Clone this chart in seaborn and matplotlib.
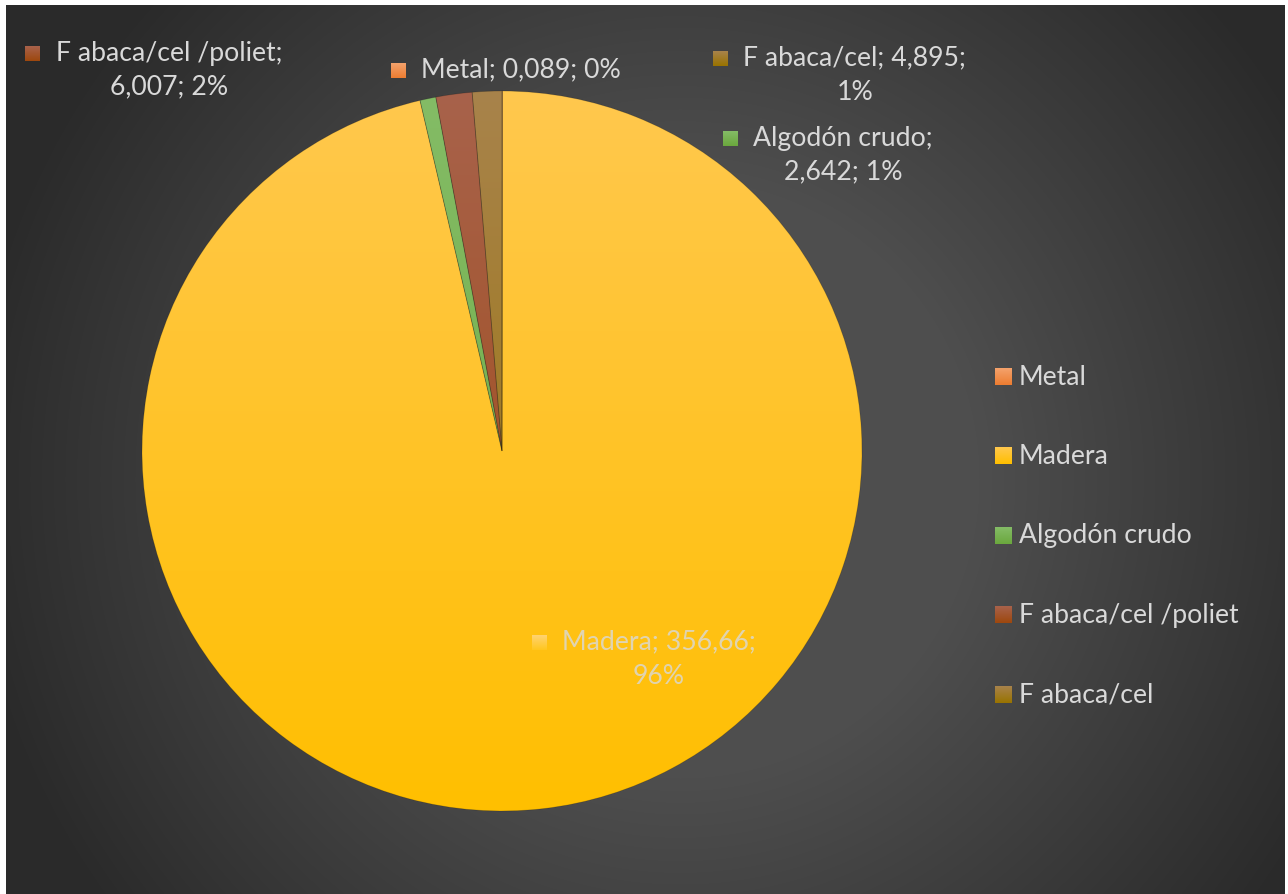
import numpy as np
import matplotlib
matplotlib.use("Agg")
import matplotlib.pyplot as plt
import seaborn as sns
from matplotlib.colors import to_rgb

# ---- data -------------------------------------------------------------
categories = ["Metal", "Madera", "Algodón crudo", "F abaca/cel /poliet", "F abaca/cel"]
values = [0.089, 356.66, 2.642, 6.007, 4.895]
value_labels = ["0,089", "356,66", "2,642", "6,007", "4,895"]

# ---- style ------------------------------------------------------------
top_colors = ["#F4A26C", "#FFC84E", "#84BC66", "#A8624B", "#A8834B"]
base_colors = ["#ED7D31", "#FFBF00", "#6BA83E", "#9E480E", "#997300"]
TEXT = "#D9D9D9"

W, H = 1288, 895
sns.set_theme(style="white")
plt.rcParams["font.family"] = ["Lato", "DejaVu Sans"]

fig = plt.figure(figsize=(W / 100, H / 100), dpi=100, facecolor="white")

# ---- radial dark background -------------------------------------------
bg = fig.add_axes([6 / W, 0, (1285 - 6) / W, (H - 6) / H])
yy, xx = np.mgrid[6:H, 6:1285]
r = np.hypot(xx - 680, yy - 480)
level = np.clip((r - 300) / 420, 0, 1)
v = (0x4E - (0x4E - 0x2A) * level) / 255
bg.imshow(np.dstack([v, v, v]), aspect="auto", interpolation="bilinear")
bg.axis("off")

# ---- pie ----------------------------------------------------------------
cx, cy, R = 502, 452, 360
pie_ax = fig.add_axes([(cx - R) / W, (H - cy - R) / H, 2 * R / W, 2 * R / H])
pie_ax.set_facecolor("none")
wedges, _ = pie_ax.pie(values, startangle=90, counterclock=False, radius=1,
                       colors=base_colors, wedgeprops=dict(linewidth=0))


def vgrad(c0, c1, n=256):
    t = np.linspace(0, 1, n)[:, None, None]
    return np.array(to_rgb(c0)) * (1 - t) + np.array(to_rgb(c1)) * t


def lighten(c, f):
    return tuple(np.array(to_rgb(c)) * (1 - f) + f)


for w, c0, c1 in zip(wedges, top_colors, base_colors):
    im = pie_ax.imshow(vgrad(c0, c1), extent=(-1, 1, -1, 1), origin="upper",
                       aspect="auto", zorder=w.get_zorder() + 0.1)
    im.set_clip_path(w)
    w.set_edgecolor((0, 0, 0, 0.18))
    w.set_linewidth(0.6)
    w.set_zorder(w.get_zorder() + 0.2)
    w.set_facecolor("none")
pie_ax.set_xlim(-1, 1)
pie_ax.set_ylim(-1, 1)
pie_ax.axis("off")

# ---- overlay in pixel units for labels and legend ----------------------
ov = fig.add_axes([0, 0, 1, 1])
ov.set_facecolor("none")
ov.axis("off")


def key(x, y, c0, c1, s=15):
    ov.imshow(vgrad(c0, c1, 32), origin="upper",
              extent=(x - s / 2, x + s / 2, y + s / 2, y - s / 2),
              aspect="auto", zorder=5, interpolation="bilinear")


# font size chosen so the legend's longest entry spans ~220 px
probe = fig.text(0, 0, "F abaca/cel /poliet", fontsize=20)
fig.canvas.draw()
rend = fig.canvas.get_renderer()
fs = 20 * 220 / probe.get_window_extent(rend).width
probe.remove()

total = sum(values)
pcts = [round(v_ / total * 100) for v_ in values]
# number of "; " separated parts kept on the first line
first_line_parts = [3, 2, 1, 1, 2]
# text centre (x) and block centre (y) in pixels
label_pos = [(521, 70), (659, 659), (843, 155), (169, 70), (855, 75)]

texts = []
for i, cat in enumerate(categories):
    parts = [cat, value_labels[i], f"{pcts[i]}%"]
    k = first_line_parts[i]
    s = "; ".join(parts[:k])
    if k < 3:
        s += ";\n" + "; ".join(parts[k:])
    inside = cat == "Madera"
    x, y = label_pos[i]
    t = ov.text(x, y, s, ha="center", va="center", multialignment="center",
                fontsize=fs, color=TEXT, alpha=0.8 if inside else 1.0,
                linespacing=1.45, zorder=6)
    texts.append((t, i, inside, k < 3))

ov.set_xlim(0, W)
ov.set_ylim(H, 0)
fig.canvas.draw()
inv = ov.transData.inverted()
for t, i, inside, two in texts:
    bb = t.get_window_extent(rend)
    x0, y_top = inv.transform((bb.x0, bb.y1))
    _, y_bot = inv.transform((bb.x0, bb.y0))
    first = t.get_text().split("\n")[0]
    probe = ov.text(0, 0, first, fontsize=fs)
    lh = probe.get_window_extent(rend).height
    probe.remove()
    if inside:
        c0, c1 = lighten(top_colors[i], 0.2), lighten(base_colors[i], 0.12)
    else:
        c0, c1 = top_colors[i], base_colors[i]
    key(x0 - 23, y_top + lh / 2 + 1, c0, c1, s=15)

# ---- legend ----------------------------------------------------------------
leg_y = [377, 456, 536, 615, 695]
for i, cat in enumerate(categories):
    key(1003.5, leg_y[i], top_colors[i], base_colors[i], s=17)
    ov.text(1019, leg_y[i], cat, ha="left", va="center", fontsize=fs,
            color=TEXT, zorder=6)

ov.set_xlim(0, W)
ov.set_ylim(H, 0)
fig.savefig("out.png", dpi=100, facecolor="white")
